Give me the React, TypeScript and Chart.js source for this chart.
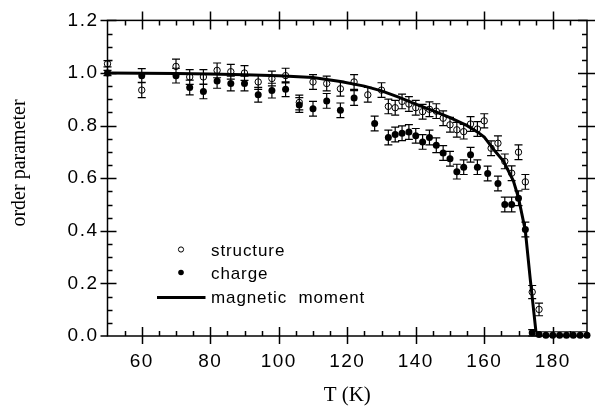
import React, { useEffect, useRef } from 'react';
import { Chart, registerables } from 'chart.js';

Chart.register(...registerables);

// ---- data ----
const structureT = [50, 60, 70, 74, 78, 82, 86, 90, 94, 98, 102, 106, 110, 114, 118, 122, 126, 130, 132, 134, 136, 138, 140, 142, 144, 146, 148, 150, 152, 154, 156, 158, 160, 162, 164, 166, 168, 170, 172, 174, 176];
const structureVal = [1.035, 0.935, 1.025, 0.985, 0.985, 1.01, 1.005, 1.0, 0.966, 0.979, 0.99, 0.888, 0.966, 0.96, 0.94, 0.966, 0.917, 0.935, 0.873, 0.868, 0.892, 0.882, 0.868, 0.853, 0.862, 0.855, 0.828, 0.803, 0.784, 0.777, 0.806, 0.787, 0.818, 0.714, 0.733, 0.664, 0.619, 0.699, 0.586, 0.167, 0.101];
const structureErr = [0.012, 0.029, 0.028, 0.028, 0.028, 0.028, 0.028, 0.028, 0.028, 0.028, 0.028, 0.028, 0.028, 0.028, 0.028, 0.028, 0.028, 0.028, 0.028, 0.028, 0.028, 0.028, 0.028, 0.028, 0.028, 0.028, 0.028, 0.028, 0.028, 0.028, 0.028, 0.028, 0.027, 0.028, 0.028, 0.028, 0.028, 0.028, 0.028, 0.025, 0.024];

const chargeT = [50, 60, 70, 74, 78, 82, 86, 90, 94, 98, 102, 106, 110, 114, 118, 122, 128, 132, 134, 136, 138, 140, 142, 144, 146, 148, 150, 152, 154, 156, 158, 161, 164, 166, 168, 170, 172, 174, 176, 178, 180, 182, 184, 186, 188, 190];
const chargeVal = [1.0, 0.99, 0.99, 0.945, 0.93, 0.97, 0.96, 0.96, 0.917, 0.933, 0.938, 0.878, 0.864, 0.894, 0.858, 0.905, 0.808, 0.755, 0.766, 0.771, 0.776, 0.761, 0.738, 0.755, 0.725, 0.696, 0.674, 0.625, 0.642, 0.689, 0.642, 0.618, 0.58, 0.5, 0.5, 0.524, 0.405, 0.012, 0.006, 0.003, 0.003, 0.003, 0.003, 0.003, 0.003, 0.003];
const chargeErr = [0.01, 0.027, 0.028, 0.028, 0.028, 0.028, 0.028, 0.028, 0.028, 0.028, 0.028, 0.028, 0.028, 0.028, 0.028, 0.028, 0.028, 0.028, 0.028, 0.028, 0.028, 0.028, 0.028, 0.028, 0.028, 0.028, 0.028, 0.028, 0.028, 0.028, 0.028, 0.028, 0.028, 0.028, 0.028, 0.028, 0.028, 0.012, 0, 0, 0, 0, 0, 0, 0, 0];

const momentT = [50, 60, 70, 80, 90, 100, 110, 118, 125, 130, 135, 140, 145, 150, 155, 158, 160, 163, 165.6, 168.5, 170, 172, 173.4, 175.1, 190];
const momentVal = [1.0, 0.999, 0.998, 0.996, 0.993, 0.99, 0.983, 0.968, 0.95, 0.932, 0.908, 0.882, 0.857, 0.83, 0.8, 0.776, 0.756, 0.705, 0.665, 0.59, 0.525, 0.4, 0.22, 0.016, 0.016];

const xMajorTicks = [60, 80, 100, 120, 140, 160, 180];
const yMajorTicks = [0, 0.2, 0.4, 0.6, 0.8, 1.0, 1.2];
const xMinorStep = 5;
const yMinorStep = 0.05;

const legendLabels = ['structure', 'charge', 'magnetic  moment'];
const xTitle = 'T (K)';
const yTitle = 'order parameter';

const SANS = '"Liberation Sans", Arial, Helvetica, sans-serif';
const SERIF = '"Liberation Serif", "Times New Roman", Times, serif';

const toPoints = (xs: number[], ys: number[]) => xs.map((x, i) => ({ x, y: ys[i] }));

const framePlugin = {
  id: 'frameTicksErrors',
  beforeDraw(chart: any) {
    chart.ctx.letterSpacing = '1.5px';
  },
  beforeDatasetsDraw(chart: any) {
    const { ctx, chartArea: a, scales } = chart;
    const xs = scales.x;
    const ys = scales.y;
    ctx.save();
    ctx.letterSpacing = '0px';
    ctx.strokeStyle = '#000';
    ctx.lineWidth = 1.5;
    ctx.strokeRect(a.left, a.top, a.right - a.left, a.bottom - a.top);
    ctx.beginPath();
    // x ticks (bottom & top)
    for (let v = xs.min + xMinorStep; v < xs.max; v += xMinorStep) {
      const px = Math.round(xs.getPixelForValue(v)) + 0.5;
      const major = xMajorTicks.some((t) => Math.abs(t - v) < 1e-6);
      if (major) {
        ctx.moveTo(px, a.bottom + 8); ctx.lineTo(px, a.bottom - 9);
        ctx.moveTo(px, a.top - 9); ctx.lineTo(px, a.top + 9);
      } else {
        ctx.moveTo(px, a.bottom); ctx.lineTo(px, a.bottom - 5);
        ctx.moveTo(px, a.top); ctx.lineTo(px, a.top + 5);
      }
    }
    // y ticks (left & right)
    for (let k = 1; k * yMinorStep < ys.max + 1e-9; k++) {
      const v = k * yMinorStep;
      const py = Math.round(ys.getPixelForValue(v)) + 0.5;
      const major = yMajorTicks.some((t) => Math.abs(t - v) < 1e-6);
      if (major) {
        ctx.moveTo(a.left - 7, py); ctx.lineTo(a.left + 9, py);
        ctx.moveTo(a.right - 9, py); ctx.lineTo(a.right + 8, py);
      } else {
        ctx.moveTo(a.left, py); ctx.lineTo(a.left + 5, py);
        ctx.moveTo(a.right - 5, py); ctx.lineTo(a.right, py);
      }
    }
    // major tick at 0.0 (outer part)
    const p0 = ys.getPixelForValue(0);
    ctx.moveTo(a.left - 7, p0); ctx.lineTo(a.left, p0);
    ctx.stroke();

    // error bars
    ctx.lineWidth = 1.2;
    ctx.beginPath();
    chart.data.datasets.forEach((ds: any) => {
      if (!ds.errors) return;
      ds.data.forEach((p: any, i: number) => {
        const e = ds.errors[i];
        if (!e) return;
        const px = xs.getPixelForValue(p.x);
        const y1 = ys.getPixelForValue(p.y + e);
        const y2 = ys.getPixelForValue(p.y - e);
        ctx.moveTo(px, y1); ctx.lineTo(px, y2);
        ctx.moveTo(px - 4, y1); ctx.lineTo(px + 4, y1);
        ctx.moveTo(px - 4, y2); ctx.lineTo(px + 4, y2);
      });
    });
    ctx.stroke();
    ctx.restore();
  },
  afterDraw(chart: any) {
    const { ctx, chartArea: a } = chart;
    ctx.save();
    ctx.letterSpacing = '0px';
    ctx.fillStyle = '#000';
    ctx.strokeStyle = '#000';
    // axis titles
    ctx.font = `21px ${SERIF}`;
    ctx.textAlign = 'center';
    ctx.textBaseline = 'alphabetic';
    ctx.fillText(xTitle, (a.left + a.right) / 2, 401);
    ctx.save();
    ctx.translate(25, 163);
    ctx.rotate(-Math.PI / 2);
    ctx.font = `20px ${SERIF}`;
    ctx.fillText(yTitle, 0, 0);
    ctx.restore();

    // legend
    const lx = a.left + 73.5;
    const tx = a.left + 103.5;
    ctx.lineWidth = 1;
    ctx.beginPath();
    ctx.arc(lx, 249.5, 2.6, 0, Math.PI * 2);
    ctx.stroke();
    ctx.beginPath();
    ctx.arc(lx, 272.5, 2.8, 0, Math.PI * 2);
    ctx.fill();
    ctx.lineWidth = 3;
    ctx.beginPath();
    ctx.moveTo(a.left + 49.5, 297.5);
    ctx.lineTo(a.left + 98, 297.5);
    ctx.stroke();
    ctx.font = `17px ${SANS}`;
    ctx.letterSpacing = '0.9px';
    ctx.textAlign = 'left';
    ctx.fillText(legendLabels[0], tx, 256);
    ctx.fillText(legendLabels[1], tx, 279);
    ctx.fillText(legendLabels[2], tx, 303);
    ctx.restore();
  },
};

export default function App() {
  const ref = useRef<HTMLCanvasElement | null>(null);

  useEffect(() => {
    if (!ref.current) return;
    const chart = new Chart(ref.current, {
      type: 'scatter',
      data: {
        datasets: [
          {
            label: legendLabels[2],
            type: 'line',
            data: toPoints(momentT, momentVal),
            borderColor: '#000',
            borderWidth: 3,
            pointRadius: 0,
            tension: 0,
            fill: false,
            clip: false,
            segment: {
              borderWidth: (c: any) => (c.p0.parsed.x >= 175 ? 1 : 3),
            },
          } as any,
          {
            label: legendLabels[0],
            data: toPoints(structureT, structureVal),
            errors: structureErr,
            pointRadius: 3.2,
            pointBorderWidth: 1,
            pointBorderColor: '#000',
            pointBackgroundColor: 'rgba(0,0,0,0)',
            showLine: false,
            clip: false,
          } as any,
          {
            label: legendLabels[1],
            data: toPoints(chargeT, chargeVal),
            errors: chargeErr,
            pointRadius: 3.5,
            pointBorderWidth: 0,
            pointBackgroundColor: '#000',
            pointBorderColor: '#000',
            showLine: false,
            clip: false,
          } as any,
        ],
      },
      options: {
        responsive: false,
        animation: false,
        events: [],
        layout: { padding: { top: 18, right: 8, left: 0, bottom: 0 } },
        plugins: {
          legend: { display: false },
          tooltip: { enabled: false },
        },
        scales: {
          x: {
            type: 'linear',
            min: 50,
            max: 190,
            grid: { display: false, drawTicks: false },
            border: { display: false },
            afterBuildTicks: (s: any) => {
              s.ticks = xMajorTicks.map((v) => ({ value: v }));
            },
            afterFit: (s: any) => {
              s.height = 71;
            },
            ticks: {
              color: '#000',
              padding: 14,
              font: { family: SANS, size: 19 },
              maxRotation: 0,
              autoSkip: false,
              callback: (v: any) => String(v),
            },
          },
          y: {
            type: 'linear',
            min: 0,
            max: 1.2,
            grid: { display: false, drawTicks: false },
            border: { display: false },
            afterBuildTicks: (s: any) => {
              s.ticks = yMajorTicks.map((v) => ({ value: v }));
            },
            afterFit: (s: any) => {
              s.width = 107.5;
            },
            ticks: {
              color: '#000',
              padding: 9,
              font: { family: SANS, size: 19 },
              autoSkip: false,
              callback: (v: any) => Number(v).toFixed(1),
            },
          },
        },
      } as any,
      plugins: [framePlugin],
    });
    return () => chart.destroy();
  }, []);

  return (
    <div style={{ position: 'absolute', left: 0, top: 0, width: 595, height: 407, background: '#fff' }}>
      <canvas ref={ref} width={595} height={407} style={{ display: 'block' }} />
    </div>
  );
}
